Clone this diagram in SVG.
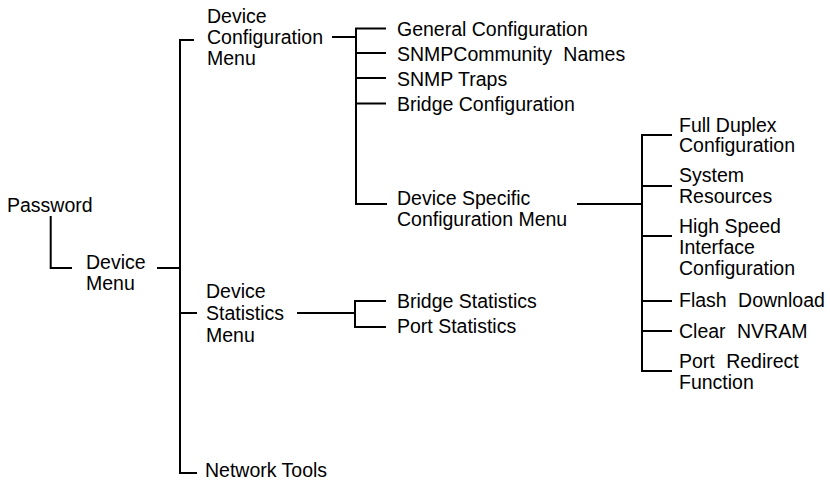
<svg xmlns="http://www.w3.org/2000/svg" width="830" height="482" viewBox="0 0 830 482">
<style>
text{font-family:"Liberation Sans",Arial,Helvetica,sans-serif;font-size:19.5px;fill:#000}
.c{fill:none;stroke:#000;stroke-width:2;stroke-linejoin:miter}
.ws{word-spacing:6px}
</style>
<rect width="830" height="482" fill="#fff"/>
<g id="connectors">
<path class="c" d="M50.7,216 V268 H72"/>
<path class="c" d="M157,268 H180"/>
<path class="c" d="M194,40 H180 V473 H197"/>
<path class="c" d="M180,313 H197"/>
<path class="c" d="M332,37 H356"/>
<path class="c" d="M386,28.5 H356 V204 H387"/>
<path class="c" d="M356,53 H386 M356,78 H386 M356,103.5 H386"/>
<path class="c" d="M297,313 H355"/>
<path class="c" d="M386,301 H355 V327 H386"/>
<path class="c" d="M577,204 H642"/>
<path class="c" d="M672,135 H642 V371 H672"/>
<path class="c" d="M642,186 H672 M642,236 H672 M642,301 H672 M642,331 H672"/>
</g>
<g id="password"><text x="7" y="212">Password</text></g>
<g id="device-menu"><text x="86" y="269"><tspan x="86">Device</tspan><tspan x="86" y="290">Menu</tspan></text></g>
<g id="device-config-menu"><text x="207" y="23"><tspan x="207">Device</tspan><tspan x="207" y="44">Configuration</tspan><tspan x="207" y="65">Menu</tspan></text></g>
<g id="device-stats-menu"><text x="206" y="298"><tspan x="206">Device</tspan><tspan x="206" y="320">Statistics</tspan><tspan x="206" y="342">Menu</tspan></text></g>
<g id="network-tools"><text x="205" y="477">Network Tools</text></g>
<g id="general-config"><text x="397" y="36">General Configuration</text></g>
<g id="snmp-community"><text class="ws" x="397" y="61">SNMPCommunity Names</text></g>
<g id="snmp-traps"><text x="397" y="85.5">SNMP Traps</text></g>
<g id="bridge-config"><text x="397" y="110.5">Bridge Configuration</text></g>
<g id="device-specific"><text x="397" y="205"><tspan x="397">Device Specific</tspan><tspan x="397" y="226">Configuration Menu</tspan></text></g>
<g id="bridge-stats"><text x="397" y="308">Bridge Statistics</text></g>
<g id="port-stats"><text x="397" y="333">Port Statistics</text></g>
<g id="full-duplex"><text x="679" y="132"><tspan x="679">Full Duplex</tspan><tspan x="679" y="152">Configuration</tspan></text></g>
<g id="system-resources"><text x="679" y="182"><tspan x="679">System</tspan><tspan x="679" y="203">Resources</tspan></text></g>
<g id="high-speed"><text x="679" y="233"><tspan x="679">High Speed</tspan><tspan x="679" y="254">Interface</tspan><tspan x="679" y="275">Configuration</tspan></text></g>
<g id="flash-download"><text class="ws" x="679" y="307">Flash Download</text></g>
<g id="clear-nvram"><text class="ws" x="679" y="337.5">Clear NVRAM</text></g>
<g id="port-redirect"><text x="679" y="368"><tspan class="ws" x="679">Port Redirect</tspan><tspan x="679" y="389">Function</tspan></text></g>
</svg>
